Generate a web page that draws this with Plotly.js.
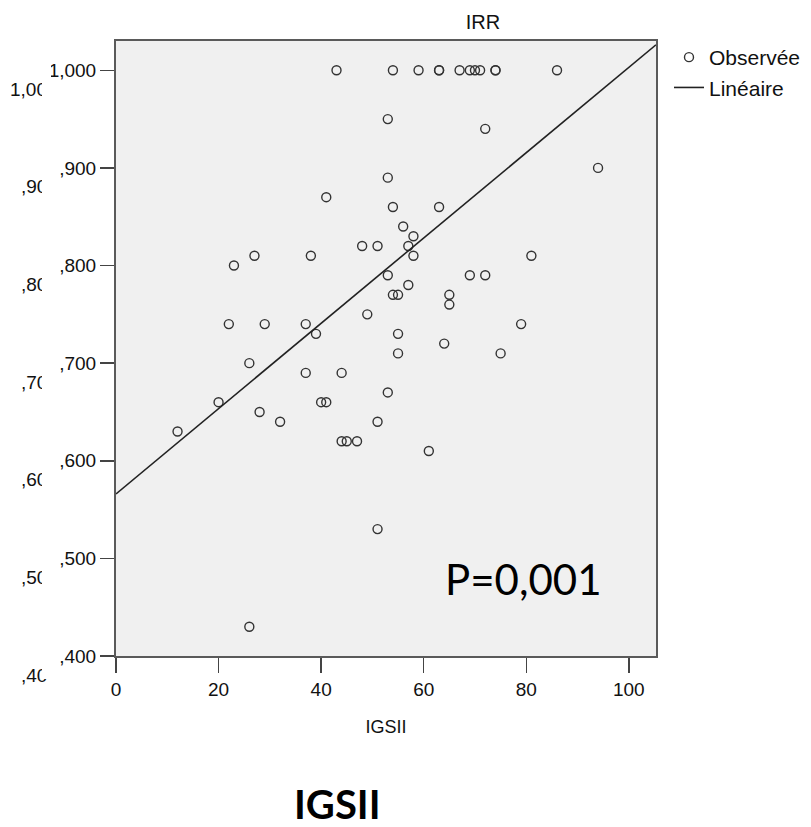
<!DOCTYPE html>
<html>
<head>
<meta charset="utf-8">
<script src="https://cdn.plot.ly/plotly-3.0.1.min.js"></script>
<style>html,body{margin:0;padding:0;background:#fff;}#chart{width:811px;height:827px;}</style>
</head>
<body>
<div id="chart"></div>
<script>
// IGSII score (x) and IRR (y)
const igsii = [43,54,59,63,63,67,69,70,71,74,74,86,
  53,72,53,94,41,54,63,56,58,48,51,57,27,38,58,81,23,53,69,72,57,54,55,65,65,49,
  22,29,37,79,39,55,64,55,75,26,37,44,53,20,40,41,28,32,51,12,44,45,47,61,51,26];
const irr = [1.00,1.00,1.00,1.00,1.00,1.00,1.00,1.00,1.00,1.00,1.00,1.00,
  0.95,0.94,0.89,0.90,0.87,0.86,0.86,0.84,0.83,0.82,0.82,0.82,0.81,0.81,0.81,0.81,0.80,0.79,0.79,0.79,0.78,0.77,0.77,0.77,0.76,0.75,
  0.74,0.74,0.74,0.74,0.73,0.73,0.72,0.71,0.71,0.70,0.69,0.69,0.67,0.66,0.66,0.66,0.65,0.64,0.64,0.63,0.62,0.62,0.62,0.61,0.53,0.43];

// linear fit as drawn in the reference (intercept and slope)
const fitIntercept = 0.566;
const fitSlope = 0.00437;

const xTickVals = [0,20,40,60,80,100];
const yTickVals = [0.4,0.5,0.6,0.7,0.8,0.9,1.0];
const yTickText = [',400',',500',',600',',700',',800',',900','1,000'];
const ghostText = [',40',',50',',60',',70',',80',',90','1,00'];
const xRange = [0, 105.3];
const yRange = [0.4, 1.03];

const fitX = [xRange[0], xRange[1]];
const fitY = fitX.map(v => fitIntercept + fitSlope*v);

const sans = 'Liberation Sans, Arial, sans-serif';

const traces = [
  {x: igsii, y: irr, type:'scatter', mode:'markers', name:'Observée',
   marker:{symbol:'circle-open', size:9, color:'#333', line:{width:1.4, color:'#333'}},
   cliponaxis:false},
  {x: fitX, y: fitY, type:'scatter', mode:'lines', name:'Linéaire',
   line:{color:'#222', width:1.6}}
];

const annotations = [
  {text:'P=0,001', x:79.5, y:0.479, xref:'x', yref:'y', showarrow:false,
   xanchor:'center', yanchor:'middle', font:{family:'Lato, sans-serif', size:42, color:'#000'}},
  {text:'<b>IGSII</b>', x:0.411, y:-0.240, xref:'paper', yref:'paper', showarrow:false,
   xanchor:'center', yanchor:'middle', font:{family:'Lato, sans-serif', size:40, color:'#000'}}
];
yTickVals.forEach((v,i)=>{
  annotations.push({text:ghostText[i], x:(49-116)/540, xref:'paper', xanchor:'right',
    y:(v-0.0195-yRange[0])/(yRange[1]-yRange[0]), yref:'paper', yanchor:'middle',
    showarrow:false, font:{family:sans, size:19, color:'#111'}});
});
annotations.push({text:' ', x:(42-116)/540, xref:'paper', xanchor:'left', y:0.5, yref:'paper',
  yanchor:'middle', width:9, height:660, bgcolor:'#ffffff', borderpad:0, borderwidth:0, showarrow:false});

const layout = {
  width:811, height:827, autosize:false,
  margin:{l:116, r:155, t:41, b:171, pad:0, autoexpand:false},
  paper_bgcolor:'#ffffff', plot_bgcolor:'#f0f0f0',
  title:{text:'IRR', x:483/811, xref:'container', xanchor:'center', y:1-22/827, yref:'container', yanchor:'middle',
    font:{family:sans, size:20, color:'#111'}},
  xaxis:{range:xRange, tickvals:xTickVals, ticks:'outside', ticklen:15, tickwidth:1.5, tickcolor:'#444',
    showline:true, mirror:true, linecolor:'#5a5a5a', linewidth:2, showgrid:false, zeroline:false,
    tickfont:{family:sans, size:19, color:'#111'},
    title:{text:'IGSII', standoff:22, font:{family:sans, size:18, color:'#111'}}},
  yaxis:{range:yRange, tickvals:yTickVals, ticktext:yTickText, ticks:'outside', ticklen:14, tickwidth:1.5, tickcolor:'#444',
    showline:true, mirror:true, linecolor:'#5a5a5a', linewidth:2, showgrid:false, zeroline:false,
    tickfont:{family:sans, size:19, color:'#111'}},
  legend:{x:(669-116)/540, xanchor:'left', y:1+(4)/615, yanchor:'top', bgcolor:'rgba(0,0,0,0)',
    font:{family:sans, size:21, color:'#111'}, tracegroupgap:0},
  showlegend:true,
  annotations: annotations
};

Plotly.newPlot('chart', traces, layout, {displayModeBar:false, staticPlot:true});
</script>
</body>
</html>
